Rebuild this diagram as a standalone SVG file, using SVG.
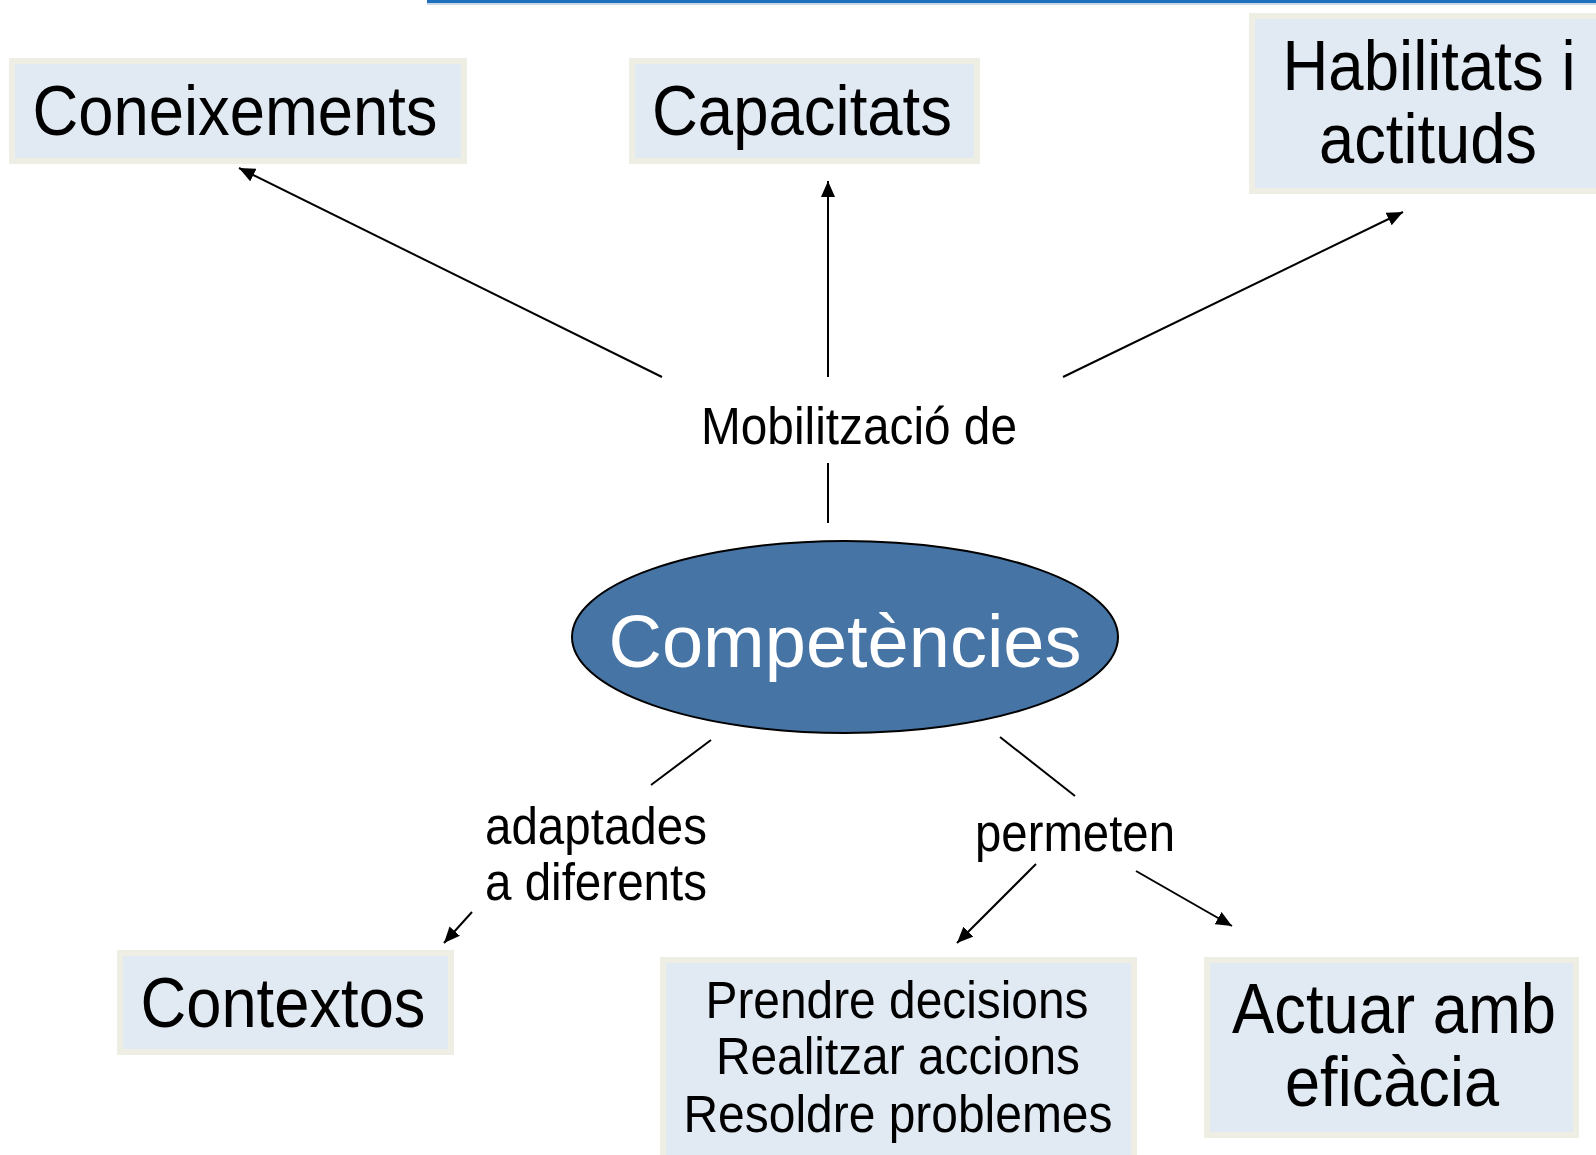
<svg xmlns="http://www.w3.org/2000/svg" width="1596" height="1155" viewBox="0 0 1596 1155">
<style>
.box{fill:#e1e9f2;stroke:#eeeee5;stroke-width:6}
.t{font-family:"Liberation Sans",Arial,sans-serif;fill:#000;text-anchor:middle}
.big{font-size:70px}
.mid{font-size:51px}
.con{stroke:#000;stroke-width:2;fill:none}
.arr{marker-end:url(#ah)}
</style>
<defs>
<marker id="ah" markerUnits="userSpaceOnUse" markerWidth="18" markerHeight="14" refX="16" refY="7" orient="auto">
<path d="M0,0 L16,7 L0,14 Z" fill="#000"/>
</marker>
</defs>
<rect width="1596" height="1155" fill="#fff"/>
<rect x="427" y="3" width="1169" height="2" fill="#c9d6e6"/>
<rect x="427" y="0" width="1169" height="3" fill="#1f6fbf"/>

<g id="connectors">
<line class="con arr" x1="662" y1="377" x2="239" y2="168"/>
<line class="con arr" x1="828" y1="377" x2="828" y2="181"/>
<line class="con arr" x1="1063" y1="377" x2="1403" y2="212"/>
<line class="con" x1="828" y1="463" x2="828" y2="523"/>
<line class="con" x1="711" y1="740" x2="651" y2="785"/>
<line class="con arr" x1="472" y1="912" x2="444" y2="943"/>
<line class="con" x1="1000" y1="737" x2="1075" y2="796"/>
<line class="con arr" x1="1036" y1="864" x2="957" y2="943"/>
<line class="con arr" x1="1136" y1="871" x2="1232" y2="926"/>
</g>

<g id="coneixements">
<rect class="box" x="12" y="61" width="452" height="100"/>
<text class="t big" x="235" y="135" textLength="405" lengthAdjust="spacingAndGlyphs">Coneixements</text>
</g>
<g id="capacitats">
<rect class="box" x="632" y="61" width="345" height="100"/>
<text class="t big" x="802" y="135" textLength="300" lengthAdjust="spacingAndGlyphs">Capacitats</text>
</g>
<g id="habilitats">
<rect class="box" x="1252" y="16" width="360" height="175"/>
<text class="t big" x="1429" y="90" textLength="293" lengthAdjust="spacingAndGlyphs">Habilitats i</text>
<text class="t big" x="1428" y="163" textLength="218" lengthAdjust="spacingAndGlyphs">actituds</text>
</g>
<g id="mobilitzacio">
<text class="t" style="font-size:51px" x="859" y="444" textLength="316" lengthAdjust="spacingAndGlyphs">Mobilització de</text>
</g>
<g id="competencies">
<ellipse cx="845" cy="637" rx="273" ry="96" fill="#4674a5" stroke="#000" stroke-width="2"/>
<text class="t" style="font-size:75px;fill:#fff" x="845" y="667" textLength="473" lengthAdjust="spacingAndGlyphs">Competències</text>
</g>
<g id="adaptades">
<text class="t mid" x="596" y="844" textLength="222" lengthAdjust="spacingAndGlyphs">adaptades</text>
<text class="t mid" x="596" y="900" textLength="222" lengthAdjust="spacingAndGlyphs">a diferents</text>
</g>
<g id="permeten">
<text class="t mid" x="1075" y="851" textLength="200" lengthAdjust="spacingAndGlyphs">permeten</text>
</g>
<g id="contextos">
<rect class="box" x="120" y="953" width="331" height="99"/>
<text class="t big" x="283" y="1027" textLength="285" lengthAdjust="spacingAndGlyphs">Contextos</text>
</g>
<g id="prendre">
<rect class="box" x="663" y="960" width="471" height="200"/>
<text class="t mid" x="897" y="1018" textLength="383" lengthAdjust="spacingAndGlyphs">Prendre decisions</text>
<text class="t mid" x="898" y="1074" textLength="364" lengthAdjust="spacingAndGlyphs">Realitzar accions</text>
<text class="t mid" x="898" y="1132" textLength="429" lengthAdjust="spacingAndGlyphs">Resoldre problemes</text>
</g>
<g id="actuar">
<rect class="box" x="1207" y="960" width="369" height="175"/>
<text class="t big" x="1394" y="1033" textLength="324" lengthAdjust="spacingAndGlyphs">Actuar amb</text>
<text class="t big" x="1392" y="1106" textLength="214" lengthAdjust="spacingAndGlyphs">eficàcia</text>
</g>
</svg>
